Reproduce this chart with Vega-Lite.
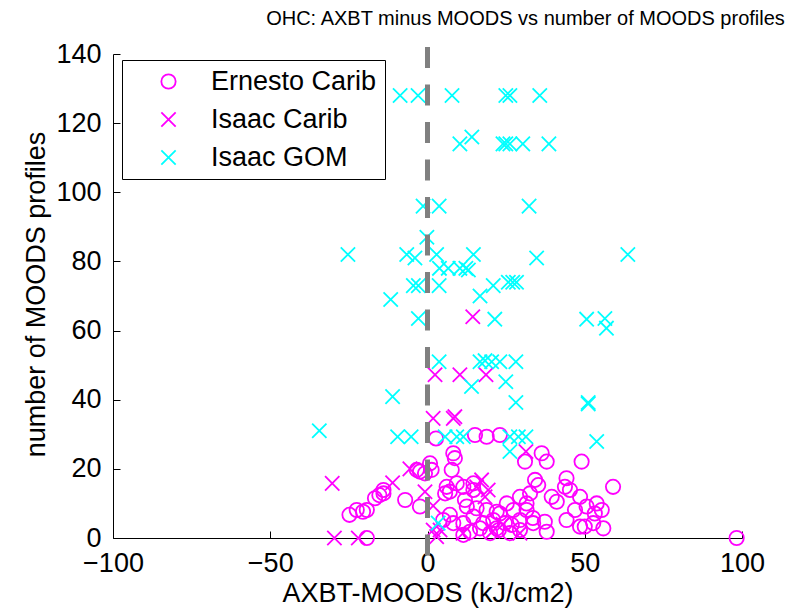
{
  "$schema": "https://vega.github.io/schema/vega-lite/v6.json",
  "autosize": {"type": "none"},
  "width": 629,
  "height": 484,
  "padding": {"left": 113, "top": 54, "right": 52, "bottom": 73},
  "background": "white",
  "config": {
    "font": "Liberation Sans",
    "view": {"stroke": null},
    "axis": {"grid": false, "domainColor": "black", "tickColor": "black", "labelColor": "black", "titleColor": "black", "labelFont": "Liberation Sans", "titleFont": "Liberation Sans", "titleFontWeight": "normal", "labelFontSize": 27, "titleFontSize": 27, "tickSize": -7, "domainWidth": 1, "tickWidth": 1}
  },
  "title": {"text": "OHC: AXBT minus MOODS vs number of MOODS profiles", "fontSize": 20, "fontWeight": "normal", "font": "Liberation Sans", "color": "black", "anchor": "middle", "frame": "group", "dx": 98, "dy": 5, "baseline": "alphabetic", "offset": 0},
  "data": {"values": [
    {"s": "Ernesto Carib", "x": 2.7, "n": 28.8},
    {"s": "Ernesto Carib", "x": 0.8, "n": 21.6},
    {"s": "Ernesto Carib", "x": -2.4, "n": 19.2},
    {"s": "Ernesto Carib", "x": -0.8, "n": 18.7},
    {"s": "Ernesto Carib", "x": -3.4, "n": 19.7},
    {"s": "Ernesto Carib", "x": -7.1, "n": 11},
    {"s": "Ernesto Carib", "x": -2.4, "n": 9.1},
    {"s": "Ernesto Carib", "x": -14.0, "n": 13.9},
    {"s": "Ernesto Carib", "x": -15.3, "n": 12.4},
    {"s": "Ernesto Carib", "x": -16.7, "n": 11.5},
    {"s": "Ernesto Carib", "x": -19.3, "n": 8.1},
    {"s": "Ernesto Carib", "x": -22.5, "n": 8.1},
    {"s": "Ernesto Carib", "x": -24.8, "n": 6.7},
    {"s": "Ernesto Carib", "x": -20.5, "n": 7.6},
    {"s": "Ernesto Carib", "x": -14.0, "n": 12.9},
    {"s": "Ernesto Carib", "x": -19.3, "n": 0},
    {"s": "Ernesto Carib", "x": 15.1, "n": 29.8},
    {"s": "Ernesto Carib", "x": 18.8, "n": 29.3},
    {"s": "Ernesto Carib", "x": 23.0, "n": 29.8},
    {"s": "Ernesto Carib", "x": 8.2, "n": 24.5},
    {"s": "Ernesto Carib", "x": 8.7, "n": 23.1},
    {"s": "Ernesto Carib", "x": 7.7, "n": 19.7},
    {"s": "Ernesto Carib", "x": 1.3, "n": 19.7},
    {"s": "Ernesto Carib", "x": 31.0, "n": 22.1},
    {"s": "Ernesto Carib", "x": 36.3, "n": 24.5},
    {"s": "Ernesto Carib", "x": 37.9, "n": 22.1},
    {"s": "Ernesto Carib", "x": 49.0, "n": 22.1},
    {"s": "Ernesto Carib", "x": 34.2, "n": 16.8},
    {"s": "Ernesto Carib", "x": 35.2, "n": 15.3},
    {"s": "Ernesto Carib", "x": 44.2, "n": 17.3},
    {"s": "Ernesto Carib", "x": 43.7, "n": 14.8},
    {"s": "Ernesto Carib", "x": 45.3, "n": 13.9},
    {"s": "Ernesto Carib", "x": 59.0, "n": 14.8},
    {"s": "Ernesto Carib", "x": 6.1, "n": 14.8},
    {"s": "Ernesto Carib", "x": 7.1, "n": 13.4},
    {"s": "Ernesto Carib", "x": 9.3, "n": 15.8},
    {"s": "Ernesto Carib", "x": 11.4, "n": 14.8},
    {"s": "Ernesto Carib", "x": 14.6, "n": 13.9},
    {"s": "Ernesto Carib", "x": 14.6, "n": 15.8},
    {"s": "Ernesto Carib", "x": 5.6, "n": 12.9},
    {"s": "Ernesto Carib", "x": 11.9, "n": 11},
    {"s": "Ernesto Carib", "x": 32.6, "n": 12.9},
    {"s": "Ernesto Carib", "x": 39.5, "n": 11.9},
    {"s": "Ernesto Carib", "x": 41.1, "n": 10.5},
    {"s": "Ernesto Carib", "x": 48.5, "n": 11.9},
    {"s": "Ernesto Carib", "x": 50.6, "n": 9.1},
    {"s": "Ernesto Carib", "x": 53.8, "n": 10},
    {"s": "Ernesto Carib", "x": 55.4, "n": 8.1},
    {"s": "Ernesto Carib", "x": 53.2, "n": 7.1},
    {"s": "Ernesto Carib", "x": 46.9, "n": 8.1},
    {"s": "Ernesto Carib", "x": 44.2, "n": 5.2},
    {"s": "Ernesto Carib", "x": 48.5, "n": 3.3},
    {"s": "Ernesto Carib", "x": 50.0, "n": 3.3},
    {"s": "Ernesto Carib", "x": 55.9, "n": 2.8},
    {"s": "Ernesto Carib", "x": 52.7, "n": 4.3},
    {"s": "Ernesto Carib", "x": 37.3, "n": 4.7},
    {"s": "Ernesto Carib", "x": 37.9, "n": 1.8},
    {"s": "Ernesto Carib", "x": 29.4, "n": 5.2},
    {"s": "Ernesto Carib", "x": 27.3, "n": 8.1},
    {"s": "Ernesto Carib", "x": 31.5, "n": 10},
    {"s": "Ernesto Carib", "x": 31.5, "n": 8.1},
    {"s": "Ernesto Carib", "x": 33.5, "n": 5.8},
    {"s": "Ernesto Carib", "x": 25.2, "n": 10},
    {"s": "Ernesto Carib", "x": 29.4, "n": 11.9},
    {"s": "Ernesto Carib", "x": 23.0, "n": 7.1},
    {"s": "Ernesto Carib", "x": 22.0, "n": 7.6},
    {"s": "Ernesto Carib", "x": 20.9, "n": 5.2},
    {"s": "Ernesto Carib", "x": 17.7, "n": 4.3},
    {"s": "Ernesto Carib", "x": 14.6, "n": 6.2},
    {"s": "Ernesto Carib", "x": 15.6, "n": 8.6},
    {"s": "Ernesto Carib", "x": 12.5, "n": 9.1},
    {"s": "Ernesto Carib", "x": 18.8, "n": 8.1},
    {"s": "Ernesto Carib", "x": 11.4, "n": 4.3},
    {"s": "Ernesto Carib", "x": 8.2, "n": 4.3},
    {"s": "Ernesto Carib", "x": 7.1, "n": 6.7},
    {"s": "Ernesto Carib", "x": 5.0, "n": 5.2},
    {"s": "Ernesto Carib", "x": 24.6, "n": 4.3},
    {"s": "Ernesto Carib", "x": 26.8, "n": 3.8},
    {"s": "Ernesto Carib", "x": 33.6, "n": 4.3},
    {"s": "Ernesto Carib", "x": 26.2, "n": 1.4},
    {"s": "Ernesto Carib", "x": 11.4, "n": 0.9},
    {"s": "Ernesto Carib", "x": 13.5, "n": 1.8},
    {"s": "Ernesto Carib", "x": 19.9, "n": 1.4},
    {"s": "Ernesto Carib", "x": 22.7, "n": 2.3},
    {"s": "Ernesto Carib", "x": 22.0, "n": 2.8},
    {"s": "Ernesto Carib", "x": 29.4, "n": 2.3},
    {"s": "Ernesto Carib", "x": 16.7, "n": 2.8},
    {"s": "Ernesto Carib", "x": 98.3, "n": 0},
    {"s": "Isaac Carib", "x": 14.4, "n": 64},
    {"s": "Isaac Carib", "x": 2.4, "n": 47.2},
    {"s": "Isaac Carib", "x": 10.3, "n": 47.2},
    {"s": "Isaac Carib", "x": 18.6, "n": 47.2},
    {"s": "Isaac Carib", "x": 1.8, "n": 34.6},
    {"s": "Isaac Carib", "x": 8.2, "n": 34.6},
    {"s": "Isaac Carib", "x": 8.7, "n": 35.1},
    {"s": "Isaac Carib", "x": 31.3, "n": 25},
    {"s": "Isaac Carib", "x": -5.6, "n": 20},
    {"s": "Isaac Carib", "x": -11.1, "n": 16},
    {"s": "Isaac Carib", "x": -30.3, "n": 15.8},
    {"s": "Isaac Carib", "x": -0.8, "n": 13.4},
    {"s": "Isaac Carib", "x": 1.8, "n": 9.3},
    {"s": "Isaac Carib", "x": -29.6, "n": 0},
    {"s": "Isaac Carib", "x": -22.0, "n": 0},
    {"s": "Isaac Carib", "x": 1.8, "n": 2.3},
    {"s": "Isaac Carib", "x": 17.2, "n": 16.8},
    {"s": "Isaac Carib", "x": 15.6, "n": 14.8},
    {"s": "Isaac Carib", "x": 19.3, "n": 13.9},
    {"s": "Isaac Carib", "x": 18.3, "n": 11.9},
    {"s": "Isaac Carib", "x": 4.0, "n": 2.3},
    {"s": "Isaac Carib", "x": 2.9, "n": 0.4},
    {"s": "Isaac Carib", "x": 11.3, "n": 1.4},
    {"s": "Isaac Carib", "x": 20.8, "n": 2.0},
    {"s": "Isaac Carib", "x": 29.4, "n": 1.4},
    {"s": "Isaac Carib", "x": 24.0, "n": 4.0},
    {"s": "Isaac GOM", "x": -8.7, "n": 128},
    {"s": "Isaac GOM", "x": -3.0, "n": 128},
    {"s": "Isaac GOM", "x": 7.8, "n": 128},
    {"s": "Isaac GOM", "x": 24.9, "n": 128},
    {"s": "Isaac GOM", "x": 26.2, "n": 128},
    {"s": "Isaac GOM", "x": 35.7, "n": 128},
    {"s": "Isaac GOM", "x": 10.3, "n": 114},
    {"s": "Isaac GOM", "x": 14.1, "n": 116},
    {"s": "Isaac GOM", "x": 24.0, "n": 114},
    {"s": "Isaac GOM", "x": 24.9, "n": 114},
    {"s": "Isaac GOM", "x": 26.2, "n": 114},
    {"s": "Isaac GOM", "x": 30.3, "n": 114},
    {"s": "Isaac GOM", "x": 38.6, "n": 114},
    {"s": "Isaac GOM", "x": -1.4, "n": 96},
    {"s": "Isaac GOM", "x": 3.7, "n": 96},
    {"s": "Isaac GOM", "x": 32.3, "n": 96},
    {"s": "Isaac GOM", "x": -0.2, "n": 87},
    {"s": "Isaac GOM", "x": -25.3, "n": 82},
    {"s": "Isaac GOM", "x": -6.6, "n": 82},
    {"s": "Isaac GOM", "x": -4.0, "n": 81},
    {"s": "Isaac GOM", "x": 2.9, "n": 82},
    {"s": "Isaac GOM", "x": 14.6, "n": 82},
    {"s": "Isaac GOM", "x": 3.8, "n": 78},
    {"s": "Isaac GOM", "x": 6.6, "n": 78},
    {"s": "Isaac GOM", "x": 10.3, "n": 78},
    {"s": "Isaac GOM", "x": 12.2, "n": 78},
    {"s": "Isaac GOM", "x": 13.0, "n": 77.5},
    {"s": "Isaac GOM", "x": 34.7, "n": 81},
    {"s": "Isaac GOM", "x": 63.7, "n": 82},
    {"s": "Isaac GOM", "x": -11.7, "n": 69},
    {"s": "Isaac GOM", "x": -4.5, "n": 73},
    {"s": "Isaac GOM", "x": -2.9, "n": 73},
    {"s": "Isaac GOM", "x": 3.7, "n": 73},
    {"s": "Isaac GOM", "x": 16.7, "n": 70},
    {"s": "Isaac GOM", "x": 20.9, "n": 73},
    {"s": "Isaac GOM", "x": 25.7, "n": 74},
    {"s": "Isaac GOM", "x": 27.1, "n": 74},
    {"s": "Isaac GOM", "x": 28.3, "n": 74},
    {"s": "Isaac GOM", "x": -2.9, "n": 63.5},
    {"s": "Isaac GOM", "x": 21.4, "n": 63.3},
    {"s": "Isaac GOM", "x": 50.6, "n": 63.3},
    {"s": "Isaac GOM", "x": 56.4, "n": 63.5},
    {"s": "Isaac GOM", "x": 56.9, "n": 60.7},
    {"s": "Isaac GOM", "x": 3.7, "n": 51},
    {"s": "Isaac GOM", "x": 16.7, "n": 51},
    {"s": "Isaac GOM", "x": 18.3, "n": 51.3},
    {"s": "Isaac GOM", "x": 20.4, "n": 51},
    {"s": "Isaac GOM", "x": 23.0, "n": 51},
    {"s": "Isaac GOM", "x": 28.1, "n": 51},
    {"s": "Isaac GOM", "x": 14.0, "n": 43.8},
    {"s": "Isaac GOM", "x": 24.9, "n": 45.2},
    {"s": "Isaac GOM", "x": -11.1, "n": 40.9},
    {"s": "Isaac GOM", "x": 28.1, "n": 39.2},
    {"s": "Isaac GOM", "x": 51.1, "n": 39.2},
    {"s": "Isaac GOM", "x": 51.1, "n": 38.8},
    {"s": "Isaac GOM", "x": -34.4, "n": 31},
    {"s": "Isaac GOM", "x": -9.5, "n": 29.3},
    {"s": "Isaac GOM", "x": -5.2, "n": 29.3},
    {"s": "Isaac GOM", "x": 5.6, "n": 29.3},
    {"s": "Isaac GOM", "x": 9.3, "n": 29.3},
    {"s": "Isaac GOM", "x": 11.4, "n": 29.3},
    {"s": "Isaac GOM", "x": 26.2, "n": 29.3},
    {"s": "Isaac GOM", "x": 28.9, "n": 29.3},
    {"s": "Isaac GOM", "x": 31.3, "n": 29.3},
    {"s": "Isaac GOM", "x": 26.2, "n": 25},
    {"s": "Isaac GOM", "x": 53.8, "n": 27.9},
    {"s": "Isaac GOM", "x": 3.4, "n": 4.3}
  ]},
  "layer": [
    {
      "mark": {"type": "point", "filled": false, "strokeWidth": 1.8, "opacity": 1, "size": 205},
      "encoding": {
        "x": {"field": "x", "type": "quantitative", "scale": {"domain": [-100, 100], "nice": false, "zero": false},
              "axis": {"values": [-100, -50, 0, 50, 100], "title": "AXBT-MOODS (kJ/cm2)", "labelPadding": 19, "titleY": 55, "titleBaseline": "middle", "labelFlush": false}},
        "y": {"field": "n", "type": "quantitative", "scale": {"domain": [0, 140], "nice": false},
              "axis": {"values": [0, 20, 40, 60, 80, 100, 120, 140], "title": "number of MOODS profiles", "labelPadding": 19, "titleX": -77, "titleY": 240, "titleAngle": -90, "titleBaseline": "middle", "titleAlign": "center", "labelFlush": false}},
        "color": {"field": "s", "type": "nominal",
                  "scale": {"domain": ["Ernesto Carib", "Isaac Carib", "Isaac GOM"], "range": ["#FF00FF", "#FF00FF", "#00FFFF"]},
                  "legend": {"title": null, "orient": "none", "legendX": 9, "legendY": 6, "strokeColor": "black", "fillColor": "white", "padding": 8, "labelFontSize": 27, "labelFont": "Liberation Sans", "labelColor": "black", "labelLimit": 400, "symbolSize": 205, "symbolStrokeWidth": 1.8, "symbolOffset": 25, "labelOffset": 29, "rowPadding": 10, "cornerRadius": 0}},
        "shape": {"field": "s", "type": "nominal",
                  "scale": {"domain": ["Ernesto Carib", "Isaac Carib", "Isaac GOM"], "range": ["circle", "M-1,-1L1,1M-1,1L1,-1", "M-1,-1L1,1M-1,1L1,-1"]}}
      }
    },
    {
      "data": {"values": [{}]},
      "mark": {"type": "rule", "color": "#808080", "strokeWidth": 5, "strokeDash": [21, 16.5]},
      "encoding": {
        "x": {"datum": 0, "type": "quantitative"},
        "y": {"datum": 142, "type": "quantitative"},
        "y2": {"datum": -7}
      }
    }
  ]
}
